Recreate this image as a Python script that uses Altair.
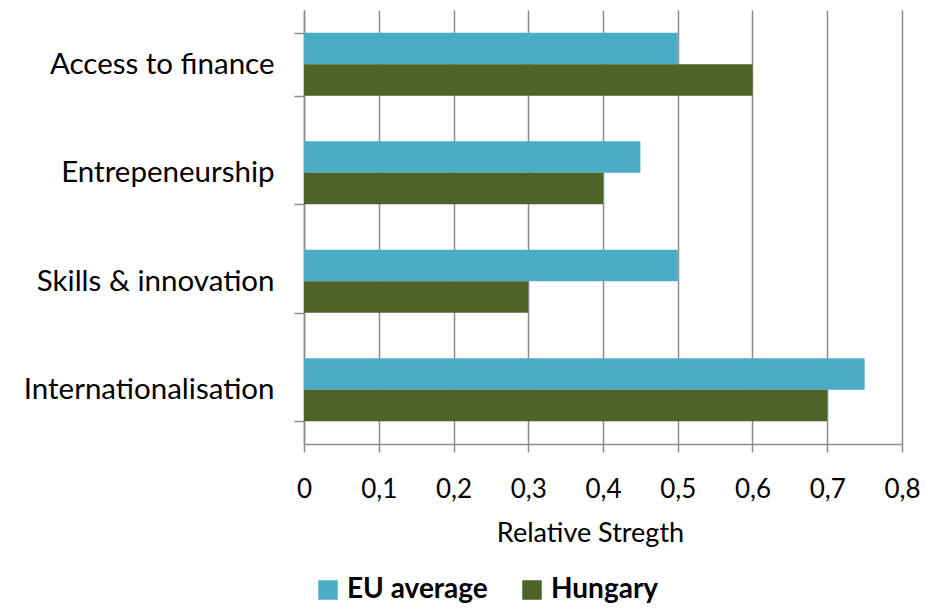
import altair as alt
import pandas as pd

categories = ["Access to finance", "Entrepeneurship", "Skills & innovation", "Internationalisation"]
eu_average = [0.5, 0.45, 0.5, 0.75]
hungary = [0.6, 0.4, 0.3, 0.7]
series = ["EU average", "Hungary"]
colors = ["#4BACC6", "#4F6228"]
x_ticks = [0, 0.1, 0.2, 0.3, 0.4, 0.5, 0.6, 0.7, 0.8]

rows = []
for c, e, h in zip(categories, eu_average, hungary):
    rows.append({"category": c, "series": "EU average", "value": e})
    rows.append({"category": c, "series": "Hungary", "value": h})
df = pd.DataFrame(rows)

FONT = "Lato"
GRID = "#8c8c8c"

chart = alt.Chart(df).mark_bar().encode(
    y=alt.Y("category:N", sort=categories,
            scale=alt.Scale(paddingInner=0.42, paddingOuter=0.21),
            axis=alt.Axis(title=None, tickBand="extent", domainColor=GRID, domainWidth=1.5,
                          tickColor=GRID, tickWidth=1.5, tickSize=10, grid=False,
                          labelFont=FONT, labelFontSize=29.5, labelColor="#000000",
                          labelPadding=20, labelLimit=400)),
    yOffset=alt.YOffset("series:N", sort=series),
    x=alt.X("value:Q", scale=alt.Scale(domain=[0, 0.8], nice=False),
            axis=alt.Axis(title="Relative Stregth", values=x_ticks, labelFlush=False,
                          labelExpr="datum.value == 0 ? '0' : replace(format(datum.value, '.1f'), '.', ',')",
                          grid=True, gridColor=GRID, gridWidth=1.5, gridOpacity=1,
                          domainColor=GRID, domainWidth=1.5, tickColor=GRID, tickWidth=1.5, tickSize=8,
                          labelFont=FONT, labelFontSize=26, labelColor="#000000", labelPadding=24,
                          titleFont=FONT, titleFontSize=27, titleFontWeight="normal", titleColor="#000000",
                          titlePadding=18, titleX=286, titleAlign="center")),
    color=alt.Color("series:N", scale=alt.Scale(domain=series, range=colors),
                    legend=alt.Legend(title=None, orient="none", direction="horizontal",
                                      legendX=10, legendY=566, symbolType="square", symbolSize=380,
                                      symbolStrokeWidth=0, symbolOpacity=1,
                                      labelFont=FONT, labelFontSize=28, labelFontWeight="bold",
                                      labelColor="#000000", columnPadding=30, labelOffset=5)),
).properties(
    width=598, height=434,
    autosize=alt.AutoSizeParams(type="none"),
    padding={"left": 296, "top": 2, "right": 28, "bottom": 161},
).configure_view(stroke=None)

chart.save("out.html", embed_options={"renderer": "svg", "actions": False})
